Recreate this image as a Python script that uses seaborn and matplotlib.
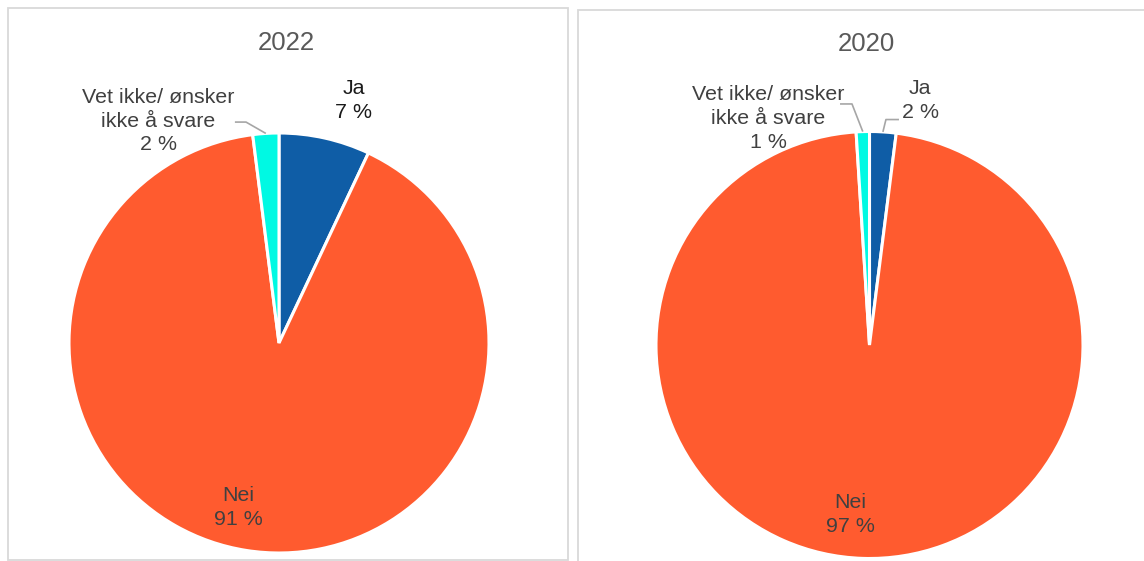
import matplotlib
matplotlib.use("Agg")
import matplotlib.pyplot as plt
from matplotlib.patches import Rectangle
import numpy as np
import seaborn as sns

# Survey answers per year
categories = ["Ja", "Nei", "Vet ikke/ ønsker\nikke å svare"]
years = ["2022", "2020"]
shares_2022 = [7, 91, 2]
shares_2020 = [2, 97, 1]
slice_colors = ["#0F5DA6", "#FF5B2F", "#00F9E3"]

sns.set_theme(style="white")
plt.rcParams["font.family"] = ["Liberation Sans", "DejaVu Sans"]

W, H = 1144, 561
fig = plt.figure(figsize=(W / 100, H / 100), dpi=100)

# Layout in pixels: pie centre, radius, panel frame, title, label anchors (radius units)
layout = [
    dict(center=(279, 343), r=210, frame=(7.5, 8, 560, 552), title=(286, 43),
         label_pos={0: (0.357, 1.157), 1: (-0.195, -0.785), 2: (-0.576, 1.057)},
         leaders={2: [(-0.210, 1.052), (-0.157, 1.052)]},
         label_colors={0: "#1A1A1A", 1: "#404040", 2: "#404040"}),
    dict(center=(869.5, 345), r=213.5, frame=(578, 10, 600, 560), title=(866, 44),
         label_pos={0: (0.237, 1.143), 1: (-0.091, -0.795), 2: (-0.475, 1.059)},
         leaders={0: [(0.138, 1.056), (0.077, 1.056)],
                  2: [(-0.138, 1.129), (-0.082, 1.129)]},
         label_colors={0: "#404040", 1: "#404040", 2: "#404040"}),
]

for year, shares, lay in zip(years, [shares_2022, shares_2020], layout):
    fx, fy, fw, fh = lay["frame"]
    fig.patches.append(Rectangle((fx / W, 1 - (fy + fh) / H), fw / W, fh / H,
                                 transform=fig.transFigure, fill=False,
                                 edgecolor="#D9D9D9", linewidth=1.3, zorder=0))
    cx, cy = lay["center"]
    r = lay["r"]
    ax = fig.add_axes([(cx - r) / W, 1 - (cy + r) / H, 2 * r / W, 2 * r / H])
    wedges, _ = ax.pie(shares, colors=slice_colors, startangle=90, counterclock=False,
                       radius=1.0, wedgeprops=dict(edgecolor="white", linewidth=2.2))
    ax.set_xlim(-1, 1)
    ax.set_ylim(-1, 1)
    ax.set_aspect("equal")
    ax.axis("off")

    for i, (cat, val) in enumerate(zip(categories, shares)):
        lx, ly = lay["label_pos"][i]
        ax.text(lx, ly, f"{cat}\n{val} %", ha="center", va="center", fontsize=15.4,
                color=lay["label_colors"][i], linespacing=1.33, clip_on=False)
        if i in lay["leaders"]:
            w = wedges[i]
            mid = np.deg2rad((w.theta1 + w.theta2) / 2)
            pts = lay["leaders"][i] + [(np.cos(mid), np.sin(mid))]
            xs, ys = zip(*pts)
            ax.plot(xs, ys, color="#A6A6A6", linewidth=1.2, clip_on=False,
                    solid_capstyle="butt")

    tx, ty = lay["title"]
    fig.text(tx / W, 1 - ty / H, year, ha="center", va="center", fontsize=18.5,
             color="#595959")

fig.savefig("out.png", dpi=100)
